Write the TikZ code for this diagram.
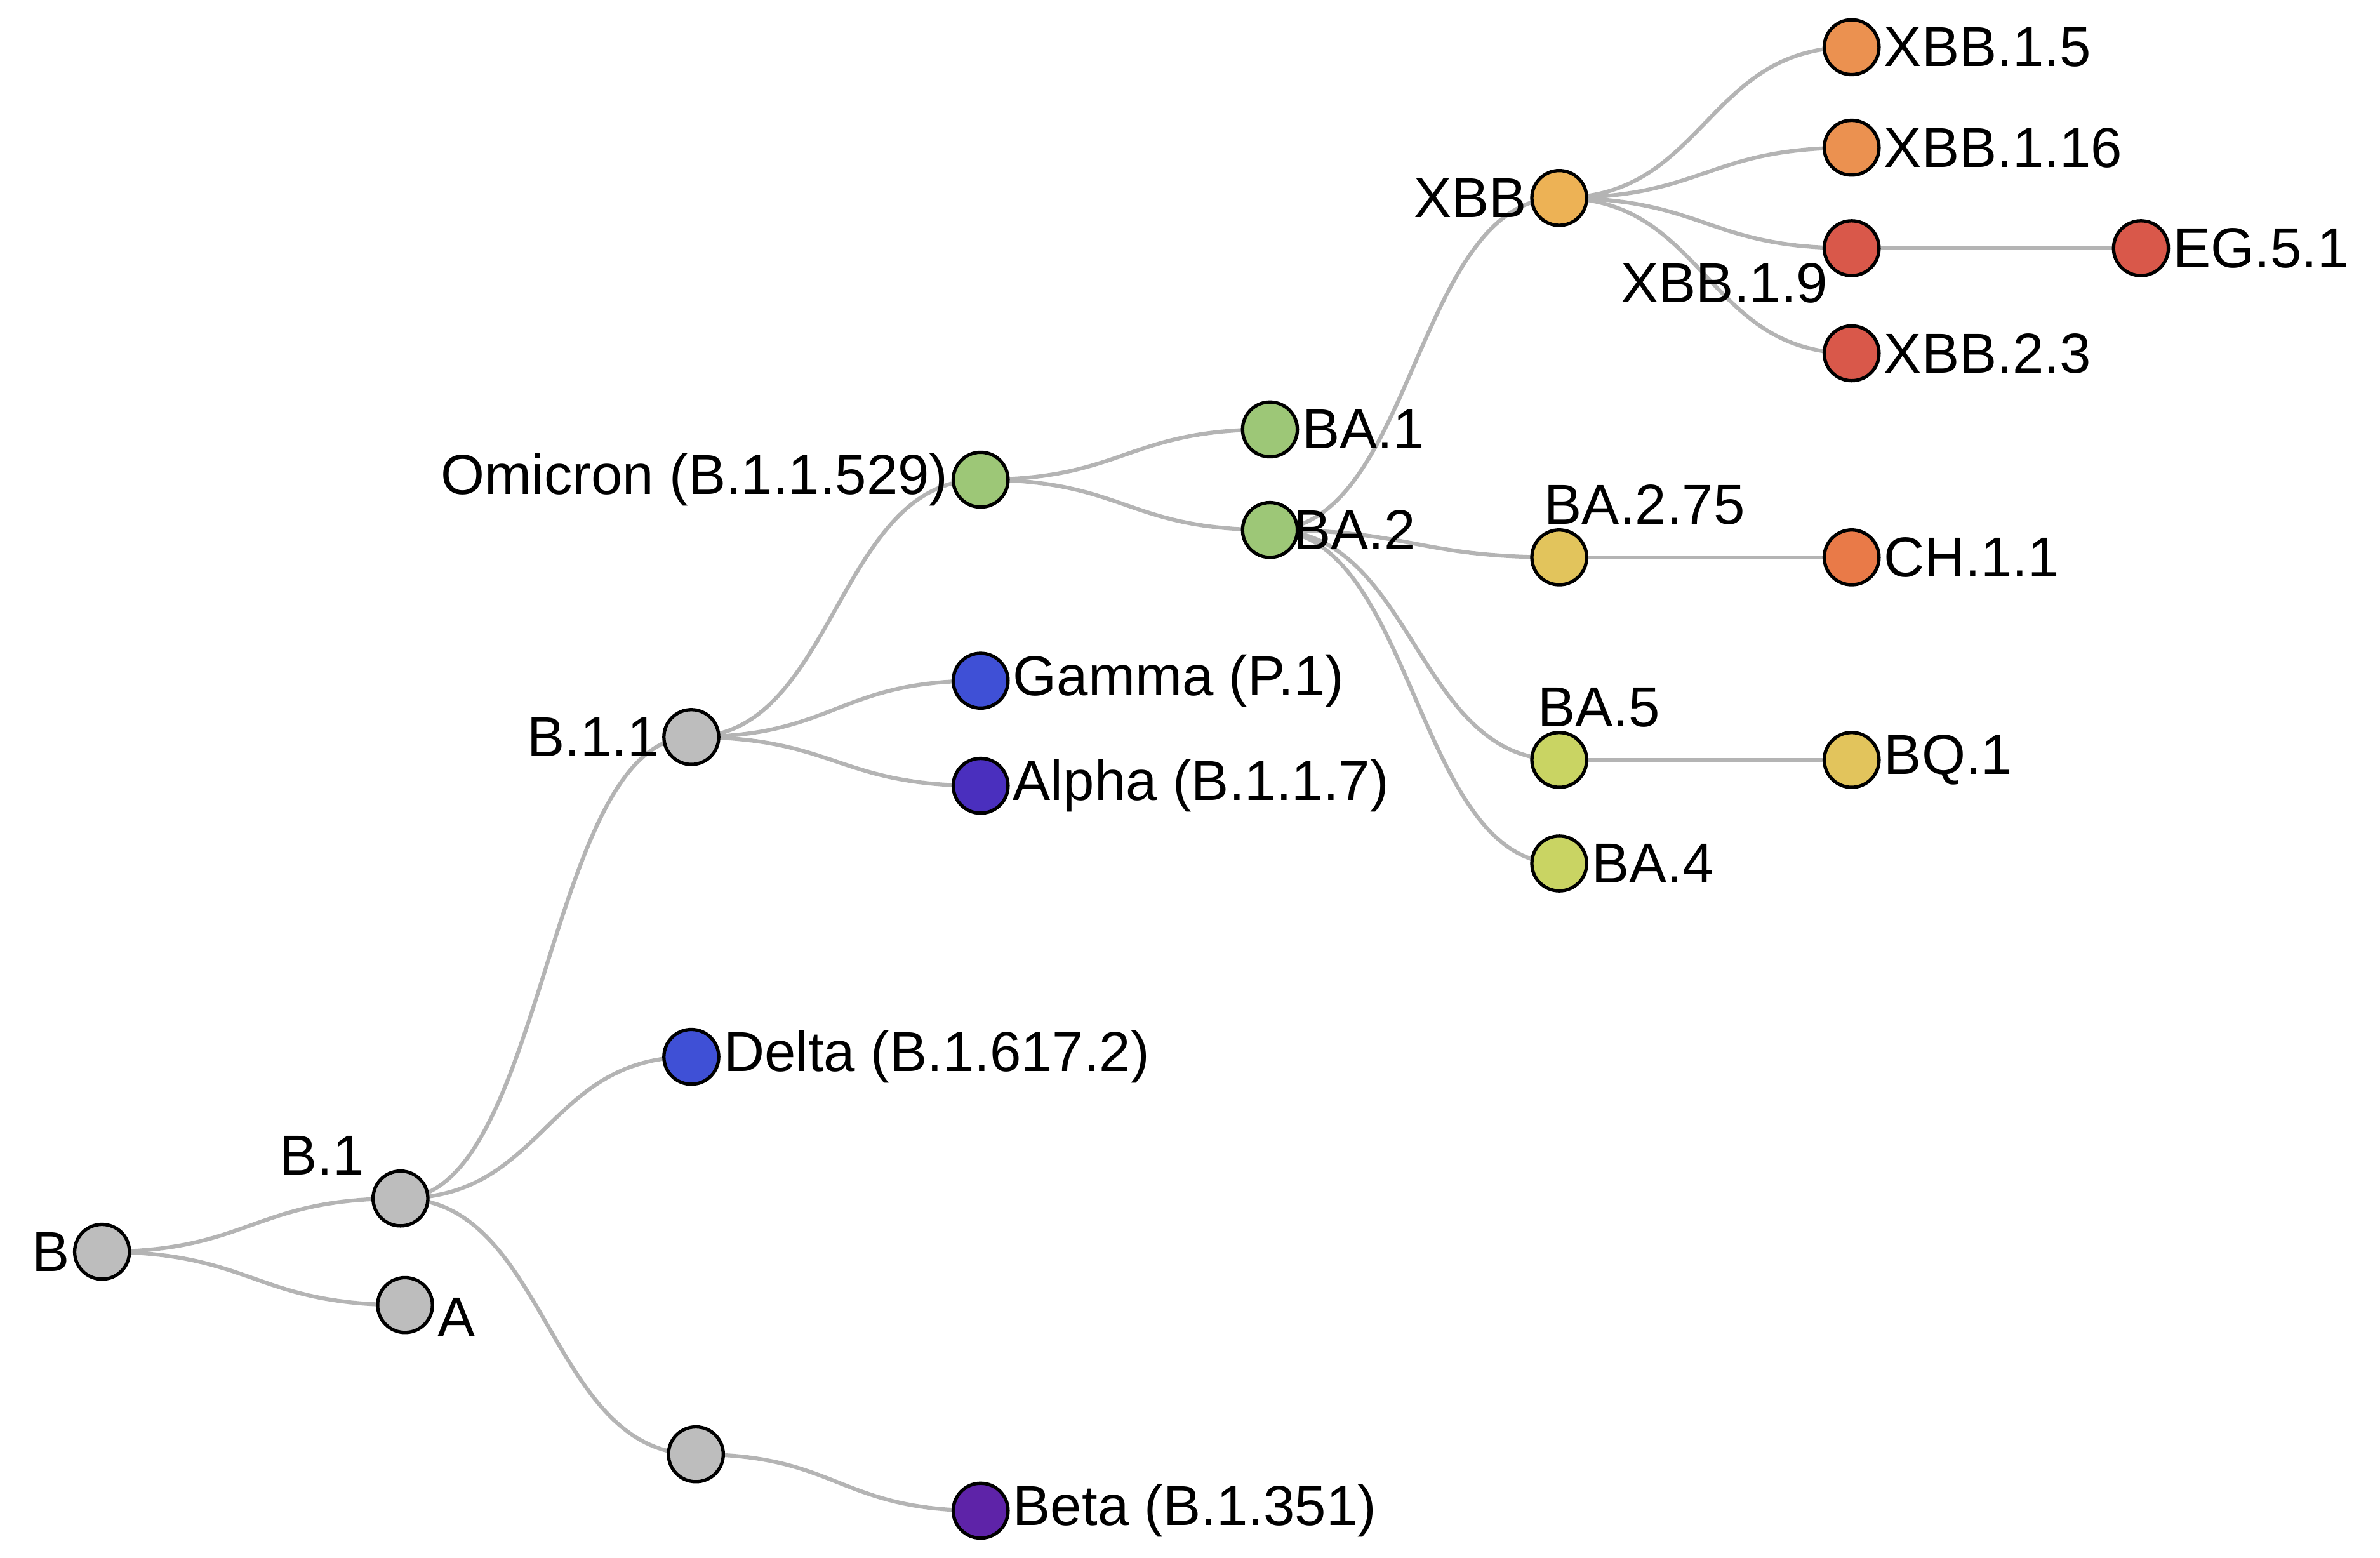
\documentclass[tikz,border=0pt]{standalone}
\usepackage{fontspec}
\setmainfont{Liberation Sans}
\usetikzlibrary{calc,backgrounds}
\definecolor{cgray}{HTML}{BDBDBD}
\definecolor{cgreen}{HTML}{9DC777}
\definecolor{cblue}{HTML}{3F50D6}
\definecolor{calpha}{HTML}{4A2FBE}
\definecolor{cbeta}{HTML}{5E23A8}
\definecolor{cxbb}{HTML}{EDB255}
\definecolor{corange}{HTML}{EB9150}
\definecolor{cred}{HTML}{D9584A}
\definecolor{cyel}{HTML}{E2C45C}
\definecolor{cba5}{HTML}{C9D463}
\definecolor{cch}{HTML}{E97A48}
\tikzset{
  v/.style={circle,draw=black,line width=2.2pt,minimum size=36pt,inner sep=0pt,fill=#1,
    label distance=2pt},
  lk/.style={draw=cgray!85!gray,line width=2.6pt},
  every label/.style={font=\fontsize{37}{40}\selectfont,inner sep=2pt}
}
\newcommand{\lnk}[2]{\draw[lk] let \p1=(#1.center), \p2=(#2.center) in
  (\p1) .. controls ({(\x1+\x2)/2},\y1) and ({(\x1+\x2)/2},\y2) .. (\p2);}
\begin{document}
\begin{tikzpicture}[x=1pt,y=-1pt]
\useasboundingbox (0,0) rectangle (1563,1023);
% nodes
\node[v=cgray,label=left:B] (b) at (67,822) {};
\node[v=cgray,label={[xshift=-8pt]above left:B.1}] (b1) at (263,787) {};
\node[v=cgray,label={[yshift=-8pt]right:A}] (a) at (266,857) {};
\node[v=cgray] (u) at (457,955) {};
\node[v=cbeta,label=right:Beta (B.1.351)] (beta) at (644,992) {};
\node[v=cblue,label=right:Delta (B.1.617.2)] (delta) at (454,694) {};
\node[v=cgray,label=left:B.1.1] (b11) at (454,484) {};
\node[v=cblue,label=right:Gamma (P.1)] (gamma) at (644,447) {};
\node[v=calpha,label=right:Alpha (B.1.1.7)] (alpha) at (644,516) {};
\node[v=cgreen,label=left:Omicron (B.1.1.529)] (omi) at (644,315) {};
\node[v=cgreen,label=right:BA.1] (ba1) at (834,282) {};
\node[v=cgreen,label={[xshift=-6pt]right:BA.2}] (ba2) at (834,348) {};
\node[v=cxbb,label=left:XBB] (xbb) at (1024,130) {};
\node[v=corange,label=right:XBB.1.5] (x15) at (1216,31) {};
\node[v=corange,label=right:XBB.1.16] (x116) at (1216,97) {};
\node[v=cred,label={[yshift=6pt]below left:XBB.1.9}] (x19) at (1216,163) {};
\node[v=cred,label=right:EG.5.1] (eg) at (1406,163) {};
\node[v=cred,label=right:XBB.2.3] (x23) at (1216,232) {};
\node[v=cyel,label={[xshift=56pt]above:BA.2.75}] (ba275) at (1024,366) {};
\node[v=cch,label=right:CH.1.1] (ch) at (1216,366) {};
\node[v=cba5,label={[xshift=26pt]above:BA.5}] (ba5) at (1024,499) {};
\node[v=cyel,label=right:BQ.1] (bq) at (1216,499) {};
\node[v=cba5,label=right:BA.4] (ba4) at (1024,567) {};
% links
\begin{scope}[on background layer]
\lnk{b}{b1} \lnk{b}{a}
\lnk{b1}{b11} \lnk{b1}{delta} \lnk{b1}{u} \lnk{u}{beta}
\lnk{b11}{omi} \lnk{b11}{gamma} \lnk{b11}{alpha}
\lnk{omi}{ba1} \lnk{omi}{ba2}
\lnk{ba2}{xbb} \lnk{ba2}{ba275} \lnk{ba2}{ba5} \lnk{ba2}{ba4}
\lnk{xbb}{x15} \lnk{xbb}{x116} \lnk{xbb}{x19} \lnk{xbb}{x23}
\lnk{x19}{eg} \lnk{ba275}{ch} \lnk{ba5}{bq}
\end{scope}
\end{tikzpicture}
\end{document}
